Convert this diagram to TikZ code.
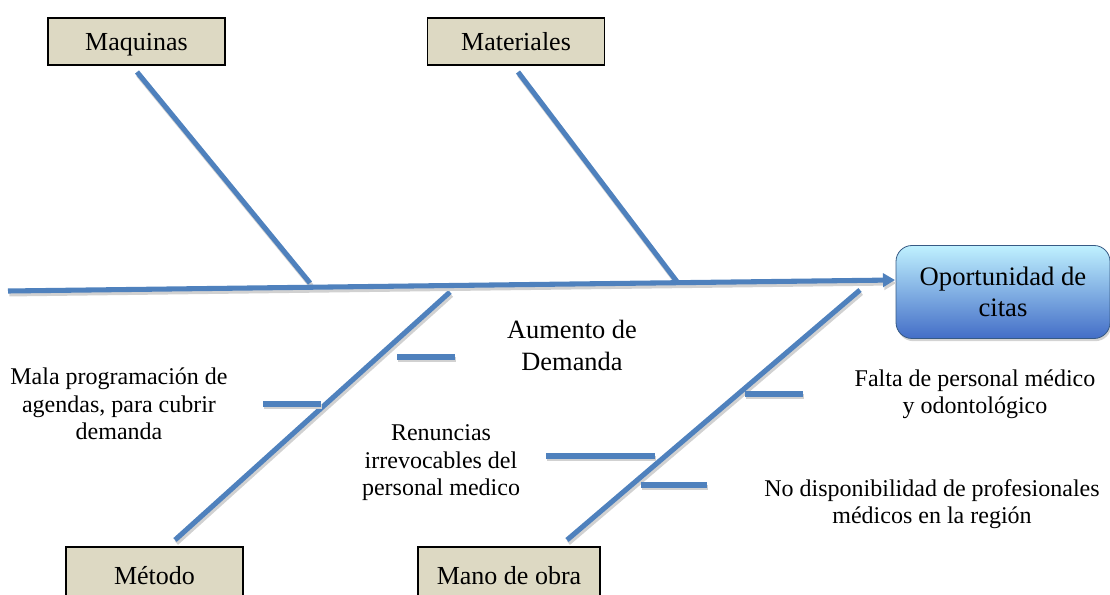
\documentclass[tikz,border=0pt]{standalone}
\usepackage{fontspec}
\setmainfont{Liberation Serif}
\usetikzlibrary{arrows.meta,shadows}
\definecolor{bone}{HTML}{4F81BD}
\definecolor{boxfill}{HTML}{DDD9C3}
\newdimen\pxu
\pxu=0.75pt
\tikzset{
  catbox/.style={draw=black,line width=1.2pt,fill=boxfill,minimum width=177\pxu,minimum height=47\pxu,inner sep=0pt,font=\fontsize{19.5}{22}\selectfont},
  boneline/.style={draw=bone,line width=3.8pt,preaction={draw=black!18,line width=3.8pt,transform canvas={yshift=-2.2pt,xshift=1pt}}},
  lbl/.style={align=center,font=\fontsize{18}{20.6}\selectfont,inner sep=0pt},
}
\begin{document}
\begin{tikzpicture}[x=0.75pt,y=-0.75pt]
\useasboundingbox (0,0) rectangle (1110,595);
% category boxes
\node[catbox,text depth=0pt,text height=14pt] (maq) at (136.5,41.5) {Maquinas};
\node[catbox,text depth=0pt,text height=14pt] (mat) at (516,41.5) {Materiales};
\node[catbox,minimum height=58\pxu] (met) at (154.5,576) {M\'etodo};
\node[catbox,minimum height=58\pxu,minimum width=182\pxu] (mano) at (509,576) {Mano de obra};
% effect box
\node[draw=bone!70!black,line width=0.6pt,rounded corners=12pt,top color=blue!22!cyan!25!white,bottom color=bone!85!blue,minimum width=214\pxu,minimum height=93\pxu,align=center,font=\fontsize{20}{23.5}\selectfont,drop shadow={opacity=0.35,shadow xshift=1pt,shadow yshift=-2pt}] (eff) at (1003,292) {Oportunidad de\\citas};
% coordinates
\coordinate (tail) at (8,291);
\coordinate (head) at (895,280);
\coordinate (maqA) at (137,72);
\coordinate (maqB) at (310,283);
\coordinate (matA) at (518,72);
\coordinate (matB) at (678,283);
\coordinate (metA) at (175,540);
\coordinate (metB) at (450,292);
\coordinate (manA) at (567,540);
\coordinate (manB) at (860,290);
\coordinate (s1a) at (397,357); \coordinate (s1b) at (455,357);
\coordinate (s2a) at (263,404); \coordinate (s2b) at (321,404);
\coordinate (s3a) at (745,394); \coordinate (s3b) at (803,394);
\coordinate (s4a) at (546,456); \coordinate (s4b) at (655,456);
\coordinate (s5a) at (641,485); \coordinate (s5b) at (707,485);
% bones
\draw[boneline] (maqA) -- (maqB);
\draw[boneline] (matA) -- (matB);
\draw[boneline] (metA) -- (metB);
\draw[boneline] (manA) -- (manB);
\draw[boneline] (s1a) -- (s1b);
\draw[boneline] (s2a) -- (s2b);
\draw[boneline] (s3a) -- (s3b);
\draw[boneline] (s4a) -- (s4b);
\draw[boneline] (s5a) -- (s5b);
\draw[boneline,-{Triangle[length=9pt,width=10pt]}] (tail) -- (head);
% labels
\node[lbl,font=\fontsize{19.8}{24}\selectfont] (t1) at (572,345) {Aumento de\\Demanda};
\node[lbl] (t2) at (119,404) {Mala programaci\'on de\\agendas, para cubrir\\demanda};
\node[lbl] (t3) at (441,463) {Renuncias\\irrevocables del\\personal medico};
\node[lbl] (t4) at (975,394) {Falta de personal m\'edico\\y odontol\'ogico};
\node[lbl] (t5) at (932,504) {No disponibilidad de profesionales\\m\'edicos en la regi\'on};
\end{tikzpicture}
\end{document}
